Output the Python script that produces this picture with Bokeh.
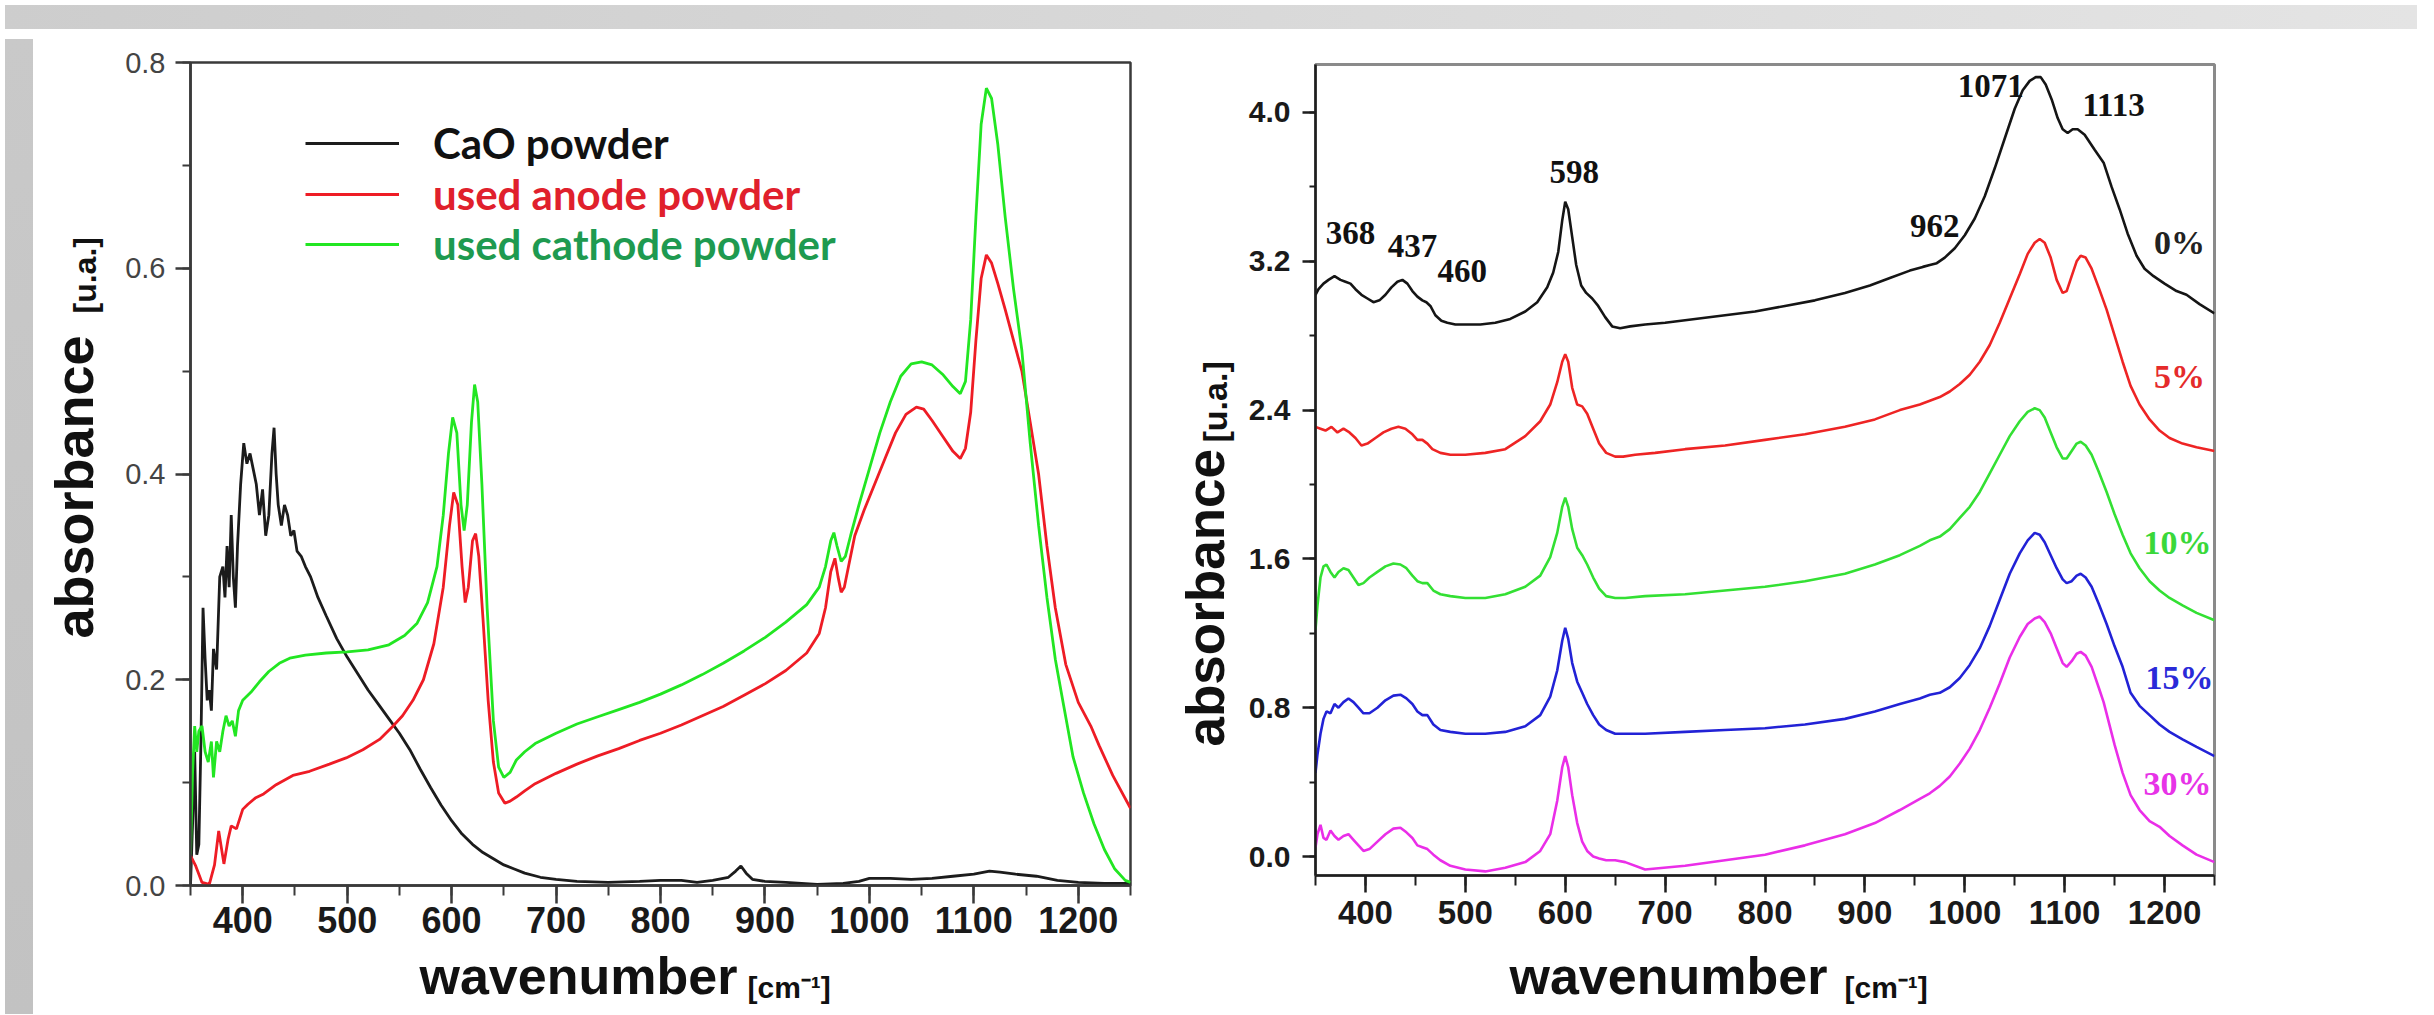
from bokeh.plotting import figure
from bokeh.models import (Label, Legend, LegendItem, FixedTicker, PrintfTickFormatter, Div)
from bokeh.layouts import row, column
from bokeh.embed import file_html
from bokeh.resources import INLINE

# ---------------- left panel data ----------------
cao_wn = [350, 352, 354, 356, 358, 360, 362, 364, 366, 368,
          370, 372, 375, 378, 381, 383, 385, 387, 389, 391,
          393, 395, 398, 401, 404, 407, 410, 413, 416, 419,
          422, 425, 428, 430, 432, 434, 437, 440, 443, 446,
          449, 452, 456, 460, 465, 472, 480, 490, 500, 510,
          520, 530, 540, 550, 560, 570, 580, 590, 600, 610,
          620, 630, 640, 650, 660, 670, 685, 700, 720, 750,
          780, 800, 820, 835, 850, 865, 872, 877, 882, 888,
          900, 920, 950, 975, 990, 1000, 1020, 1040, 1060, 1080,
          1100, 1115, 1125, 1140, 1160, 1180, 1200, 1225, 1250]
cao_abs = [0.0, 0.06, 0.13, 0.03, 0.04, 0.14, 0.27, 0.22, 0.18, 0.19,
           0.17, 0.23, 0.21, 0.30, 0.31, 0.28, 0.33, 0.29, 0.36, 0.30,
           0.27, 0.33, 0.39, 0.43, 0.41, 0.42, 0.405, 0.39, 0.36, 0.385,
           0.34, 0.36, 0.42, 0.445, 0.40, 0.37, 0.35, 0.37, 0.36, 0.34,
           0.345, 0.325, 0.32, 0.31, 0.30, 0.28, 0.262, 0.24, 0.222, 0.206,
           0.19, 0.176, 0.162, 0.148, 0.132, 0.113, 0.095, 0.078, 0.063, 0.05,
           0.04, 0.032, 0.026, 0.02, 0.016, 0.012, 0.008, 0.006, 0.004, 0.003,
           0.004, 0.005, 0.005, 0.003, 0.005, 0.008, 0.014, 0.019, 0.012, 0.006,
           0.004, 0.003, 0.001, 0.002, 0.004, 0.007, 0.007, 0.006, 0.007, 0.009,
           0.011, 0.014, 0.013, 0.011, 0.009, 0.005, 0.003, 0.002, 0.002]

anode_wn = [350, 355, 361, 368, 373, 377, 382, 386, 389, 394,
            400, 405, 412, 420, 432, 448, 464, 483, 499, 515,
            531, 544, 553, 563, 573, 583, 592, 598, 602, 606,
            610, 613, 616, 620, 623, 626, 630, 635, 640, 645,
            651, 656, 662, 670, 680, 700, 720, 740, 760, 780,
            800, 820, 840, 860, 880, 900, 920, 940, 952, 958,
            963, 967, 970, 973, 976, 980, 986, 995, 1005, 1015,
            1025, 1035, 1045, 1052, 1060, 1070, 1080, 1087, 1092, 1097,
            1102, 1107, 1112, 1117, 1123, 1130, 1138, 1146, 1154, 1162,
            1170, 1178, 1188, 1200, 1212, 1220, 1233, 1250]
anode_abs = [0.029, 0.019, 0.003, 0.001, 0.02, 0.053, 0.021, 0.045, 0.058, 0.055,
             0.074, 0.079, 0.085, 0.089, 0.098, 0.107, 0.111, 0.118, 0.124, 0.132,
             0.142, 0.155, 0.165, 0.18, 0.20, 0.235, 0.29, 0.35, 0.382, 0.37,
             0.31, 0.275, 0.29, 0.335, 0.342, 0.32, 0.26, 0.18, 0.12, 0.09,
             0.08, 0.082, 0.086, 0.092, 0.099, 0.109, 0.118, 0.126, 0.133, 0.141,
             0.148, 0.156, 0.165, 0.174, 0.185, 0.196, 0.209, 0.226, 0.245, 0.27,
             0.305, 0.318, 0.30, 0.285, 0.29, 0.31, 0.34, 0.365, 0.39, 0.415,
             0.44, 0.458, 0.465, 0.463, 0.452, 0.437, 0.422, 0.415, 0.425, 0.46,
             0.53, 0.59, 0.613, 0.605, 0.585, 0.56, 0.53, 0.50, 0.45, 0.40,
             0.33, 0.27, 0.215, 0.178, 0.155, 0.136, 0.107, 0.075]

cathode_wn = [350, 352, 354, 356, 358, 361, 364, 367, 370, 372,
              375, 378, 381, 384, 387, 390, 393, 396, 400, 408,
              416, 425, 435, 445, 460, 480, 500, 520, 540, 555,
              567, 577, 586, 592, 597, 601, 605, 609, 612, 615,
              619, 622, 625, 629, 634, 640, 645, 650, 656, 662,
              670, 680, 700, 720, 740, 760, 780, 800, 820, 840,
              860, 880, 900, 920, 940, 952, 958, 963, 966, 969,
              973, 977, 982, 990, 1000, 1010, 1020, 1030, 1040, 1050,
              1060, 1070, 1080, 1087, 1092, 1097, 1102, 1107, 1112, 1117,
              1123, 1130, 1138, 1146, 1154, 1162, 1170, 1178, 1186, 1195,
              1205, 1215, 1225, 1235, 1245, 1250]
cathode_abs = [0.03, 0.11, 0.155, 0.13, 0.15, 0.155, 0.13, 0.12, 0.14, 0.105,
               0.14, 0.13, 0.15, 0.165, 0.155, 0.16, 0.145, 0.17, 0.18, 0.188,
               0.198, 0.208, 0.216, 0.221, 0.224, 0.226, 0.227, 0.229, 0.234, 0.243,
               0.255, 0.275, 0.31, 0.36, 0.42, 0.455, 0.44, 0.37, 0.345, 0.37,
               0.45, 0.487, 0.47, 0.39, 0.27, 0.16, 0.115, 0.105, 0.11, 0.122,
               0.13, 0.138, 0.148, 0.157, 0.164, 0.171, 0.178, 0.186, 0.195, 0.205,
               0.216, 0.228, 0.241, 0.256, 0.273, 0.29, 0.31, 0.335, 0.343, 0.33,
               0.315, 0.32, 0.34, 0.37, 0.405, 0.44, 0.47, 0.495, 0.507, 0.509,
               0.506, 0.497, 0.485, 0.478, 0.49, 0.55, 0.65, 0.74, 0.775, 0.765,
               0.72, 0.65, 0.58, 0.52, 0.43, 0.35, 0.28, 0.22, 0.175, 0.125,
               0.09, 0.06, 0.035, 0.016, 0.005, 0.003]

left_labels = ["CaO powder", "used anode powder", "used cathode powder"]

# ---------------- right panel data ----------------
wn_0 = [350, 353, 358, 363, 369, 375, 380, 385, 390, 396,
        402, 408, 414, 420, 426, 432, 437, 442, 447, 452,
        457, 461, 465, 470, 476, 482, 490, 500, 515, 530,
        545, 560, 572, 582, 588, 593, 597, 600, 603, 607,
        611, 616, 621, 627, 633, 640, 647, 655, 665, 680,
        700, 730, 760, 790, 820, 850, 880, 905, 925, 945,
        958, 965, 972, 980, 990, 1000, 1010, 1020, 1030, 1040,
        1050, 1058, 1065, 1071, 1076, 1081, 1087, 1093, 1098, 1103,
        1108, 1113, 1120, 1130, 1139, 1147, 1155, 1163, 1172, 1180,
        1189, 1200, 1212, 1222, 1235, 1250]
abs_0 = [3.02, 3.05, 3.08, 3.10, 3.12, 3.10, 3.09, 3.08, 3.05, 3.02,
         3.00, 2.98, 2.99, 3.02, 3.06, 3.09, 3.10, 3.08, 3.04, 3.01,
         2.99, 2.98, 2.96, 2.91, 2.88, 2.87, 2.86, 2.86, 2.86, 2.87,
         2.89, 2.93, 2.98, 3.06, 3.14, 3.25, 3.42, 3.52, 3.48, 3.33,
         3.18, 3.07, 3.03, 3.00, 2.96, 2.90, 2.85, 2.84, 2.85, 2.86,
         2.87, 2.89, 2.91, 2.93, 2.96, 2.99, 3.03, 3.07, 3.11, 3.15,
         3.17, 3.18, 3.19, 3.22, 3.27, 3.34, 3.43, 3.55, 3.70, 3.86,
         4.02, 4.12, 4.17, 4.19, 4.19, 4.15, 4.07, 3.97, 3.91, 3.89,
         3.91, 3.91, 3.88, 3.80, 3.73, 3.60, 3.48, 3.35, 3.23, 3.16,
         3.12, 3.08, 3.04, 3.02, 2.97, 2.92]

wn_5 = [350, 355, 360, 366, 372, 378, 384, 390, 396, 402,
        410, 418, 426, 433, 440, 447, 452, 457, 462, 467,
        475, 485, 500, 520, 540, 560, 575, 585, 592, 597,
        600, 603, 607, 612, 617, 622, 628, 634, 641, 650,
        658, 670, 690, 720, 760, 800, 840, 880, 910, 935,
        955, 965, 975, 985, 995, 1005, 1015, 1025, 1035, 1045,
        1055, 1063, 1070, 1075, 1080, 1086, 1092, 1098, 1102, 1107,
        1112, 1116, 1121, 1127, 1134, 1142, 1150, 1158, 1166, 1175,
        1185, 1195, 1205, 1218, 1232, 1250]
abs_5 = [2.31, 2.30, 2.29, 2.31, 2.28, 2.30, 2.28, 2.25, 2.21, 2.22,
         2.25, 2.28, 2.30, 2.31, 2.30, 2.27, 2.24, 2.24, 2.22, 2.19,
         2.17, 2.16, 2.16, 2.17, 2.19, 2.26, 2.34, 2.43, 2.55, 2.66,
         2.70, 2.66, 2.52, 2.43, 2.42, 2.38, 2.30, 2.22, 2.17, 2.15,
         2.15, 2.16, 2.17, 2.19, 2.21, 2.24, 2.27, 2.31, 2.35, 2.40,
         2.43, 2.45, 2.47, 2.50, 2.54, 2.59, 2.66, 2.75, 2.87, 3.00,
         3.13, 3.24, 3.30, 3.32, 3.30, 3.22, 3.10, 3.03, 3.04, 3.12,
         3.20, 3.23, 3.22, 3.16, 3.06, 2.94, 2.80, 2.66, 2.53, 2.43,
         2.35, 2.29, 2.25, 2.22, 2.20, 2.18]

wn_10 = [350, 352, 355, 358, 361, 365, 369, 373, 378, 383,
         388, 393, 398, 404, 412, 420, 428, 435, 441, 447,
         452, 457, 462, 468, 475, 485, 500, 520, 540, 560,
         575, 585, 592, 597, 600, 603, 607, 612, 617, 622,
         628, 634, 641, 650, 660, 680, 720, 760, 800, 840,
         880, 910, 935, 955, 965, 975, 985, 995, 1005, 1015,
         1025, 1035, 1045, 1055, 1063, 1070, 1075, 1080, 1086, 1092,
         1098, 1102, 1107, 1112, 1116, 1121, 1127, 1134, 1142, 1150,
         1158, 1166, 1175, 1185, 1195, 1205, 1218, 1232, 1250]
abs_10 = [1.22, 1.35, 1.50, 1.56, 1.57, 1.53, 1.50, 1.53, 1.55, 1.54,
          1.50, 1.46, 1.47, 1.50, 1.53, 1.56, 1.575, 1.57, 1.55, 1.51,
          1.48, 1.47, 1.47, 1.43, 1.41, 1.40, 1.39, 1.39, 1.41, 1.45,
          1.51, 1.61, 1.74, 1.88, 1.93, 1.88, 1.76, 1.66, 1.62, 1.57,
          1.50, 1.44, 1.40, 1.39, 1.39, 1.40, 1.41, 1.43, 1.45, 1.48,
          1.52, 1.57, 1.62, 1.67, 1.70, 1.72, 1.76, 1.82, 1.88, 1.96,
          2.06, 2.16, 2.26, 2.34, 2.39, 2.41, 2.40, 2.36, 2.28, 2.20,
          2.14, 2.14, 2.18, 2.22, 2.23, 2.21, 2.16, 2.07, 1.96, 1.84,
          1.73, 1.63, 1.55, 1.48, 1.43, 1.39, 1.35, 1.31, 1.27]

wn_15 = [350, 352, 355, 358, 361, 365, 369, 373, 378, 383,
         388, 393, 398, 404, 412, 420, 428, 435, 441, 447,
         452, 457, 462, 468, 475, 485, 500, 520, 540, 560,
         575, 585, 592, 597, 600, 603, 607, 612, 617, 622,
         628, 634, 641, 650, 660, 680, 720, 760, 800, 840,
         880, 910, 935, 955, 965, 975, 985, 995, 1005, 1015,
         1025, 1035, 1045, 1055, 1063, 1070, 1075, 1080, 1086, 1092,
         1098, 1102, 1107, 1112, 1116, 1121, 1127, 1134, 1142, 1150,
         1158, 1166, 1175, 1185, 1195, 1205, 1218, 1232, 1250]
abs_15 = [0.45, 0.55, 0.66, 0.74, 0.78, 0.77, 0.82, 0.80, 0.83, 0.85,
          0.83, 0.80, 0.77, 0.77, 0.80, 0.84, 0.865, 0.87, 0.85, 0.82,
          0.78, 0.76, 0.76, 0.71, 0.68, 0.67, 0.66, 0.66, 0.67, 0.70,
          0.76, 0.86, 1.00, 1.16, 1.23, 1.17, 1.04, 0.94, 0.88, 0.82,
          0.76, 0.71, 0.68, 0.66, 0.66, 0.66, 0.67, 0.68, 0.69, 0.71,
          0.74, 0.78, 0.82, 0.85, 0.87, 0.88, 0.91, 0.96, 1.03, 1.12,
          1.24, 1.38, 1.52, 1.63, 1.70, 1.74, 1.73, 1.69, 1.62, 1.55,
          1.49, 1.47, 1.48, 1.51, 1.52, 1.50, 1.45, 1.36, 1.25, 1.13,
          1.02, 0.88, 0.81, 0.76, 0.71, 0.67, 0.63, 0.59, 0.54]

wn_30 = [350, 352, 355, 358, 361, 365, 369, 373, 378, 383,
         388, 393, 398, 404, 412, 420, 428, 435, 441, 447,
         452, 457, 462, 468, 475, 485, 500, 520, 540, 560,
         575, 585, 592, 597, 600, 603, 607, 612, 617, 622,
         628, 634, 641, 650, 660, 680, 720, 760, 800, 840,
         880, 910, 935, 955, 965, 975, 985, 995, 1005, 1015,
         1025, 1035, 1045, 1055, 1063, 1070, 1075, 1080, 1086, 1092,
         1098, 1102, 1107, 1112, 1116, 1121, 1127, 1134, 1139, 1150,
         1158, 1166, 1175, 1185, 1195, 1205, 1218, 1232, 1250]
abs_30 = [0.05, 0.12, 0.17, 0.10, 0.09, 0.14, 0.11, 0.09, 0.11, 0.12,
          0.09, 0.06, 0.03, 0.04, 0.08, 0.12, 0.15, 0.155, 0.13, 0.10,
          0.06, 0.05, 0.04, 0.01, -0.02, -0.05, -0.07, -0.08, -0.06, -0.03,
          0.03, 0.12, 0.30, 0.48, 0.54, 0.48, 0.33, 0.18, 0.08, 0.03,
          0.0, -0.01, -0.02, -0.02, -0.03, -0.07, -0.05, -0.02, 0.01, 0.06,
          0.12, 0.18, 0.25, 0.31, 0.34, 0.38, 0.43, 0.50, 0.58, 0.68,
          0.80, 0.93, 1.07, 1.18, 1.25, 1.28, 1.29, 1.26, 1.20, 1.12,
          1.04, 1.02, 1.05, 1.09, 1.10, 1.08, 1.02, 0.91, 0.83, 0.60,
          0.45, 0.33, 0.25, 0.19, 0.16, 0.11, 0.06, 0.01, -0.03]

x_ticks = [400, 500, 600, 700, 800, 900, 1000, 1100, 1200]
x_minor = [350, 400, 450, 500, 550, 600, 650, 700, 750, 800, 850, 900,
           950, 1000, 1050, 1100, 1150, 1200, 1250]
left_y_ticks = [0.0, 0.2, 0.4, 0.6, 0.8]
left_y_minor = [0.0, 0.1, 0.2, 0.3, 0.4, 0.5, 0.6, 0.7, 0.8]
right_y_ticks = [0.0, 0.8, 1.6, 2.4, 3.2, 4.0]
right_y_minor = [0.0, 0.4, 0.8, 1.2, 1.6, 2.0, 2.4, 2.8, 3.2, 3.6, 4.0]
series_labels = ["0%", "5%", "10%", "15%", "30%"]
peak_labels = ["368", "437", "460", "598", "962", "1071", "1113"]

SANS = "Liberation Sans"
SERIF = "Liberation Serif"


def style_axes(p, ax_color, yt):
    p.grid.visible = False
    p.background_fill_color = "white"
    p.border_fill_color = "white"
    for ax in (p.xaxis[0], p.yaxis[0]):
        ax.axis_line_color = ax_color
        ax.axis_line_width = 2.5
        ax.major_tick_line_color = ax_color
        ax.major_tick_line_width = 2.5
        ax.minor_tick_line_color = ax_color
        ax.minor_tick_line_width = 2
        ax.major_tick_in = 0
        ax.minor_tick_in = 0
        ax.major_label_text_font = SANS
    p.xaxis.ticker = FixedTicker(ticks=x_ticks, minor_ticks=x_minor)
    p.yaxis.ticker = FixedTicker(ticks=yt[0], minor_ticks=yt[1])
    p.yaxis.formatter = PrintfTickFormatter(format="%.1f")


def text_canvas(w, h, xr, yr):
    """A blank strip whose data units are page pixels, holding axis titles."""
    f = figure(width=w, height=h, x_range=xr, y_range=yr, output_backend="svg",
               toolbar_location=None, min_border=0, x_axis_location=None,
               y_axis_location=None, outline_line_color=None)
    f.xgrid.visible = False
    f.ygrid.visible = False
    f.background_fill_color = "white"
    f.border_fill_color = "white"
    return f


def title_label(p, x, y, text, size, angle=0):
    p.add_layout(Label(x=x, y=y, text=text, angle=angle, angle_units="deg",
                       text_font=SANS, text_font_style="bold", text_font_size=size,
                       text_color="#111111", text_align="left",
                       text_baseline="alphabetic"))


# ---------------- left figure ----------------
p1 = figure(width=1048, height=913, x_range=(350, 1250), y_range=(0, 0.8),
            output_backend="svg", toolbar_location=None,
            min_border_left=76, min_border_right=32, min_border_top=28,
            min_border_bottom=62)
style_axes(p1, "#3a3a3a", (left_y_ticks, left_y_minor))
p1.outline_line_color = "#3a3a3a"
p1.outline_line_width = 2.5
p1.xaxis.major_tick_out = 18
p1.xaxis.minor_tick_out = 10
p1.yaxis.major_tick_out = 15
p1.yaxis.minor_tick_out = 8
p1.xaxis.major_label_text_font_size = "36px"
p1.xaxis.major_label_text_font_style = "bold"
p1.xaxis.major_label_text_color = "#1a1a1a"
p1.xaxis.major_label_standoff = 3
p1.yaxis.major_label_text_font_size = "29px"
p1.yaxis.major_label_text_color = "#444444"
p1.yaxis.major_label_standoff = 10

r_cao = p1.line(cao_wn, cao_abs, line_color="#1c1c1c", line_width=2.8)
r_anode = p1.line(anode_wn, anode_abs, line_color="#ee1c25", line_width=2.8)
r_cath = p1.line(cathode_wn, cathode_abs, line_color="#22e622", line_width=2.8)

leg_colors = ["#111111", "#e0202c", "#1e9a50"]
leg_y = [717, 666, 616]
for r, lab, col, vy in zip([r_cao, r_anode, r_cath], left_labels, leg_colors, leg_y):
    lg = Legend(items=[LegendItem(label=lab, renderers=[r])], location=(115, vy),
                label_text_font="Lato", label_text_font_style="bold",
                label_text_font_size="42px", label_text_color=col,
                glyph_width=94, glyph_height=50, label_height=50,
                label_standoff=34, padding=0, margin=0, spacing=0,
                border_line_alpha=0, background_fill_alpha=0)
    p1.add_layout(lg)

# ---------------- right figure ----------------
p2 = figure(width=1180, height=913, x_range=(350, 1250), y_range=(-0.102, 4.258),
            output_backend="svg", toolbar_location=None,
            min_border_left=73, min_border_right=208, min_border_top=30,
            min_border_bottom=72)
style_axes(p2, "#1e1e1e", (right_y_ticks, right_y_minor))
p2.outline_line_color = "#8a8a8a"
p2.outline_line_width = 3
p2.xaxis.major_tick_out = 17
p2.xaxis.minor_tick_out = 10
p2.yaxis.major_tick_out = 13
p2.yaxis.minor_tick_out = 6
p2.xaxis.major_label_text_font_size = "33px"
p2.xaxis.major_label_text_font_style = "bold"
p2.xaxis.major_label_text_color = "#1a1a1a"
p2.xaxis.major_label_standoff = 8
p2.yaxis.major_label_text_font_size = "30px"
p2.yaxis.major_label_text_font_style = "bold"
p2.yaxis.major_label_text_color = "#1a1a1a"
p2.yaxis.major_label_standoff = 12

series = [(wn_0, abs_0, "#151515"), (wn_5, abs_5, "#ee2424"), (wn_10, abs_10, "#33e033"),
          (wn_15, abs_15, "#2222d6"), (wn_30, abs_30, "#ea2ee8")]
for xs, ys, col in series:
    p2.line(xs, ys, line_color=col, line_width=2.6)

series_colors = ["#222222", "#e52b2b", "#3ad83a", "#2a2ad8", "#e733e7"]
series_pos = [(1215, 3.30), (1215, 2.58), (1213, 1.69), (1215, 0.96), (1213, 0.39)]
for lab, col, (lx, ly) in zip(series_labels, series_colors, series_pos):
    p2.add_layout(Label(x=lx, y=ly, text=lab, text_font=SERIF, text_font_style="bold",
                        text_font_size="34px", text_color=col,
                        text_align="center", text_baseline="middle"))

peak_pos = [(385, 3.35), (447, 3.28), (497, 3.15), (609, 3.68), (970, 3.39),
            (1026, 4.14), (1149, 4.04)]
for lab, (lx, ly) in zip(peak_labels, peak_pos):
    p2.add_layout(Label(x=lx, y=ly, text=lab, text_font=SERIF, text_font_style="bold",
                        text_font_size="33px", text_color="#111111",
                        text_align="center", text_baseline="middle"))

# ---------------- axis-title strips (page-pixel coordinates) ----------------
ytitle1 = text_canvas(76, 975, (36, 112), (1007, 32))
title_label(ytitle1, 71, 636, "absorbance", "54px", angle=90)
title_label(ytitle1, 82, 311, "[u.a.]", "32px", angle=90)

# the strips below share the frame edges of the plot above them
xtitle1 = text_canvas(1048, 62, (188, 1128), (1007, 945))
title_label(xtitle1, 417, 973, "wavenumber", "52px")
title_label(xtitle1, 745, 985, "[cm\u207b\u00b9]", "30px")

ytitle2 = text_canvas(80, 975, (1160, 1240), (1007, 32))
title_label(ytitle2, 1203, 744, "absorbance", "53px", angle=90)
title_label(ytitle2, 1212, 440, "[u.a.]", "34px", angle=90)

xtitle2 = text_canvas(1180, 62, (1313, 2212), (1007, 945))
title_label(xtitle2, 1507, 973, "wavenumber", "52px")
title_label(xtitle2, 1842, 985, "[cm\u207b\u00b9]", "30px")

# ---------------- page frame (grey slide border) ----------------
top_band = Div(width=2412, height=24,
               styles={"background": "linear-gradient(to right, #cdcdcd, #e4e4e4)"})
left_band = Div(width=28, height=975,
                styles={"background": "linear-gradient(to bottom, #c9c9c9, #c2c2c2)"})

layout = column(top_band,
                row(left_band, ytitle1, column(p1, xtitle1, spacing=0),
                    ytitle2, column(p2, xtitle2, spacing=0), spacing=0),
                spacing=0)

open("out.html", "w").write(file_html(layout, INLINE))
